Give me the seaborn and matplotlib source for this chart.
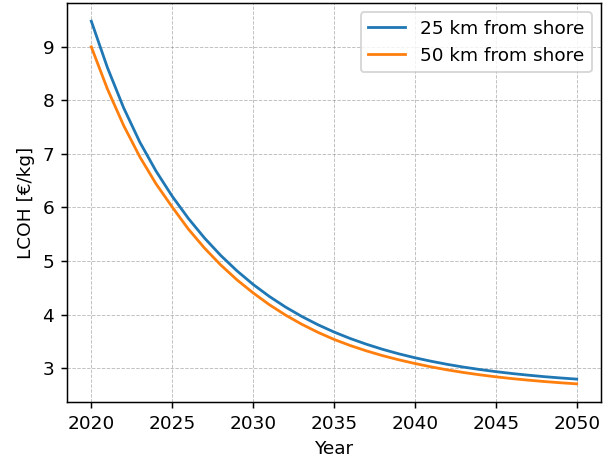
import pandas as pd
import matplotlib
matplotlib.use('Agg')
import matplotlib.pyplot as plt
import seaborn as sns

# LCOH, one value per year
years = list(range(2020, 2051))
lcoh_25km = [9.48, 8.61, 7.86, 7.22, 6.68, 6.21, 5.795, 5.428, 5.104, 4.817,
             4.563, 4.339, 4.141, 3.966, 3.811, 3.674, 3.553, 3.446, 3.351, 3.267,
             3.193, 3.128, 3.070, 3.019, 2.974, 2.934, 2.899, 2.868, 2.840, 2.816,
             2.794]
lcoh_50km = [9.00, 8.21, 7.53, 6.945, 6.442, 6.009, 5.596, 5.240, 4.926, 4.649,
             4.405, 4.185, 3.991, 3.820, 3.669, 3.536, 3.422, 3.322, 3.233, 3.155,
             3.086, 3.023, 2.967, 2.918, 2.875, 2.837, 2.804, 2.775, 2.749, 2.726,
             2.706]
labels = ['25 km from shore', '50 km from shore']

df = pd.DataFrame({'Year': years, labels[0]: lcoh_25km, labels[1]: lcoh_50km})
df = pd.melt(df, id_vars=['Year'], value_vars=labels,
             var_name='Distance', value_name='LCOH')

dpi = 133.33
fig = plt.figure(figsize=(611 / dpi, 457 / dpi), dpi=dpi)
ax = fig.add_axes([0.1097, 0.1204, 0.8739, 0.873])

sns.lineplot(data=df, x='Year', y='LCOH', hue='Distance',
             palette=['#1f77b4', '#ff7f0e'], linewidth=1.5, ax=ax)

ax.set_xlabel('Year')
ax.set_ylabel('LCOH [€/kg]')
ax.set_xticks(range(2020, 2051, 5))
ax.grid(True, linestyle='--', linewidth=0.5, color='gray', alpha=0.5)
ax.legend(title=None, loc='upper right')

fig.savefig('out.png', dpi=dpi)
